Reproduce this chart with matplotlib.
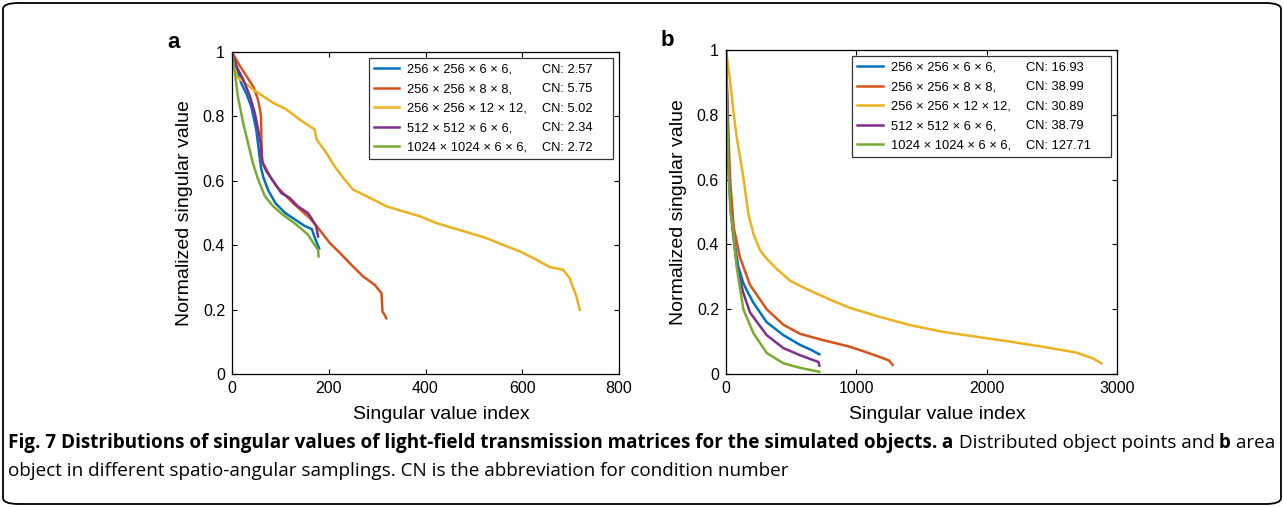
import matplotlib
matplotlib.use('Agg')
import matplotlib.pyplot as plt
from matplotlib.lines import Line2D
from matplotlib.patches import FancyBboxPatch

# *=*=* Data *=*=*
series_labels = ['256 \u00d7 256 \u00d7 6 \u00d7 6,', '256 \u00d7 256 \u00d7 8 \u00d7 8,',
                 '256 \u00d7 256 \u00d7 12 \u00d7 12,', '512 \u00d7 512 \u00d7 6 \u00d7 6,',
                 '1024 \u00d7 1024 \u00d7 6 \u00d7 6,']
cn_a = ['CN: 2.57', 'CN: 5.75', 'CN: 5.02', 'CN: 2.34', 'CN: 2.72']
cn_b = ['CN: 16.93', 'CN: 38.99', 'CN: 30.89', 'CN: 38.79', 'CN: 127.71']
colors = ['#0072BD', '#D95319', '#EDB120', '#7E2F8E', '#77AC30']

# panel a (distributed object points)
a_x_blue = [0, 10, 20, 30, 40, 50, 55, 60, 65, 75, 90, 110, 130, 150, 165, 172, 180]
a_y_blue = [1, 0.95, 0.9, 0.87, 0.83, 0.76, 0.7, 0.64, 0.61, 0.57, 0.53, 0.5, 0.48, 0.46, 0.45, 0.42, 0.39]
a_x_red = [0, 15, 30, 45, 54, 58, 60, 61, 62, 66, 80, 92, 126, 161, 181, 202, 223, 250, 271, 295, 309, 311, 315, 319]
a_y_red = [1, 0.96, 0.925, 0.89, 0.85, 0.82, 0.8, 0.72, 0.66, 0.65, 0.61, 0.583, 0.531, 0.484, 0.448, 0.407, 0.376, 0.334, 0.303, 0.277, 0.251, 0.194, 0.185, 0.173]
a_x_yellow = [0, 9, 43, 85, 112, 140, 171, 175, 195, 212, 230, 250, 285, 319, 354, 388, 422, 457, 491, 526, 560, 595, 629, 657, 684, 698, 704, 712, 719]
a_y_yellow = [1, 0.925, 0.884, 0.842, 0.822, 0.79, 0.759, 0.728, 0.687, 0.645, 0.609, 0.573, 0.547, 0.521, 0.505, 0.49, 0.469, 0.453, 0.438, 0.422, 0.401, 0.381, 0.355, 0.332, 0.324, 0.298, 0.272, 0.241, 0.199]
a_x_purple = [0, 9, 23, 37, 47, 54, 59, 63, 71, 88, 102, 119, 136, 157, 164, 174, 178]
a_y_purple = [1, 0.956, 0.915, 0.863, 0.811, 0.759, 0.718, 0.656, 0.63, 0.593, 0.562, 0.547, 0.521, 0.5, 0.484, 0.459, 0.427]
a_x_green = [0, 6, 12, 23, 33, 43, 54, 68, 85, 105, 133, 157, 168, 178, 179]
a_y_green = [1, 0.936, 0.863, 0.78, 0.718, 0.656, 0.604, 0.552, 0.521, 0.495, 0.464, 0.433, 0.407, 0.386, 0.365]

# panel b (area object)
b_x_blue = [0, 8, 20, 35, 55, 75, 95, 133, 170, 210, 312, 440, 568, 650, 716]
b_y_blue = [1, 0.85, 0.65, 0.52, 0.44, 0.38, 0.33, 0.28, 0.25, 0.22, 0.16, 0.12, 0.09, 0.075, 0.061]
b_x_red = [0, 10, 31, 60, 107, 184, 312, 440, 568, 721, 951, 1100, 1182, 1250, 1278]
b_y_red = [1, 0.85, 0.6, 0.45, 0.36, 0.275, 0.2, 0.152, 0.124, 0.107, 0.084, 0.064, 0.052, 0.042, 0.028]
b_x_yellow = [0, 31, 60, 82, 133, 171, 210, 261, 312, 388, 491, 619, 824, 951, 1182, 1411, 1666, 1922, 2177, 2433, 2688, 2816, 2880]
b_y_yellow = [1, 0.906, 0.8, 0.731, 0.608, 0.495, 0.433, 0.382, 0.356, 0.325, 0.288, 0.262, 0.225, 0.204, 0.176, 0.151, 0.13, 0.115, 0.1, 0.084, 0.066, 0.048, 0.033]
b_x_purple = [0, 8, 20, 35, 55, 75, 95, 133, 184, 312, 440, 568, 709, 716]
b_y_purple = [1, 0.85, 0.64, 0.51, 0.43, 0.36, 0.31, 0.25, 0.19, 0.12, 0.08, 0.058, 0.037, 0.026]
b_x_green = [0, 8, 20, 35, 56, 82, 133, 210, 312, 440, 568, 716]
b_y_green = [1, 0.82, 0.62, 0.5, 0.44, 0.33, 0.2, 0.126, 0.065, 0.033, 0.019, 0.007]

a_xticks = [0, 200, 400, 600, 800]
b_xticks = [0, 1000, 2000, 3000]
yticks = [0, 0.2, 0.4, 0.6, 0.8, 1]
ytick_labels = ['0', '0.2', '0.4', '0.6', '0.8', '1']

# *=*=* Plot *=*=*
plt.rcParams['font.family'] = ['Liberation Sans', 'DejaVu Sans']
caption_font = ['Open Sans', 'DejaVu Sans']

fig = plt.figure(figsize=(12.84, 5.07), dpi=100)
ax_a = fig.add_axes([232 / 1284, 1 - 374 / 507, 387 / 1284, 322 / 507])
ax_b = fig.add_axes([726 / 1284, 1 - 374 / 507, 391 / 1284, 324 / 507])

panels = [
    (ax_a, [a_x_blue, a_x_red, a_x_yellow, a_x_purple, a_x_green],
     [a_y_blue, a_y_red, a_y_yellow, a_y_purple, a_y_green], cn_a, a_xticks, 800, 'a'),
    (ax_b, [b_x_blue, b_x_red, b_x_yellow, b_x_purple, b_x_green],
     [b_y_blue, b_y_red, b_y_yellow, b_y_purple, b_y_green], cn_b, b_xticks, 3000, 'b'),
]

for ax, xs, ys, cns, xt, xmax, letter in panels:
    handles = []
    for x, y, c in zip(xs, ys, colors):
        h, = ax.plot(x, y, color=c, linewidth=1.8)
        handles.append(h)
    ax.set_xlim(0, xmax)
    ax.set_ylim(0, 1)
    ax.set_xticks(xt)
    ax.set_xticklabels([str(t) for t in xt])
    ax.set_yticks(yticks)
    ax.set_yticklabels(ytick_labels)
    ax.tick_params(direction='in', top=True, right=True, length=3.5, width=0.8,
                   labelsize=11.5, pad=5)
    for s in ax.spines.values():
        s.set_linewidth(0.9)
    ax.set_xlabel('Singular value index', fontsize=14, labelpad=5)
    ax.xaxis.set_label_coords(0.5 + 16 / 387, -0.1)
    ax.set_ylabel('Normalized singular value', fontsize=14, labelpad=7)
    # two-column legend: second column holds the CN values with invisible handles
    blanks = [Line2D([], [], color='none') for _ in cns]
    leg = ax.legend(handles + blanks, series_labels + [c + '    ' for c in cns], ncol=2,
                    loc='upper right', fontsize=9.3, handlelength=1.95, handletextpad=0.65,
                    labelspacing=0.58, columnspacing=-1.45, fancybox=False, framealpha=1,
                    edgecolor='#333333', borderpad=0.4, borderaxespad=0.5)
    leg.get_frame().set_linewidth(0.9)
    ax.text(-0.15, 1.03, letter, transform=ax.transAxes, fontsize=16, fontweight='bold',
            ha='center', va='center')

# figure border with rounded corners
border = FancyBboxPatch((3 / 1284, 3 / 507), 1278 / 1284, 501 / 507,
                        boxstyle='round,pad=0,rounding_size=0.012', transform=fig.transFigure,
                        facecolor='none', edgecolor='black', linewidth=1.3)
fig.patches.append(border)

# caption, bold and plain pieces placed one after another
renderer = fig.canvas.get_renderer()
pieces = [('Fig. 7 Distributions of singular values of light-field transmission matrices for the simulated objects.', 'bold'),
          (' a', 'bold'), (' Distributed object points and', 'normal'), (' b', 'bold'), (' area', 'normal')]
x0 = 8
for txt, w in pieces:
    t = fig.text(x0 / 1284, 1 - 443 / 507, txt, fontsize=13.6, fontweight=w,
                 family=caption_font, va='center', ha='left')
    x0 = t.get_window_extent(renderer).x1
fig.text(8 / 1284, 1 - 471 / 507, 'object in different spatio-angular samplings. CN is the abbreviation for condition number',
         fontsize=13.6, family=caption_font, va='center', ha='left')

fig.savefig('out.png', dpi=100)
